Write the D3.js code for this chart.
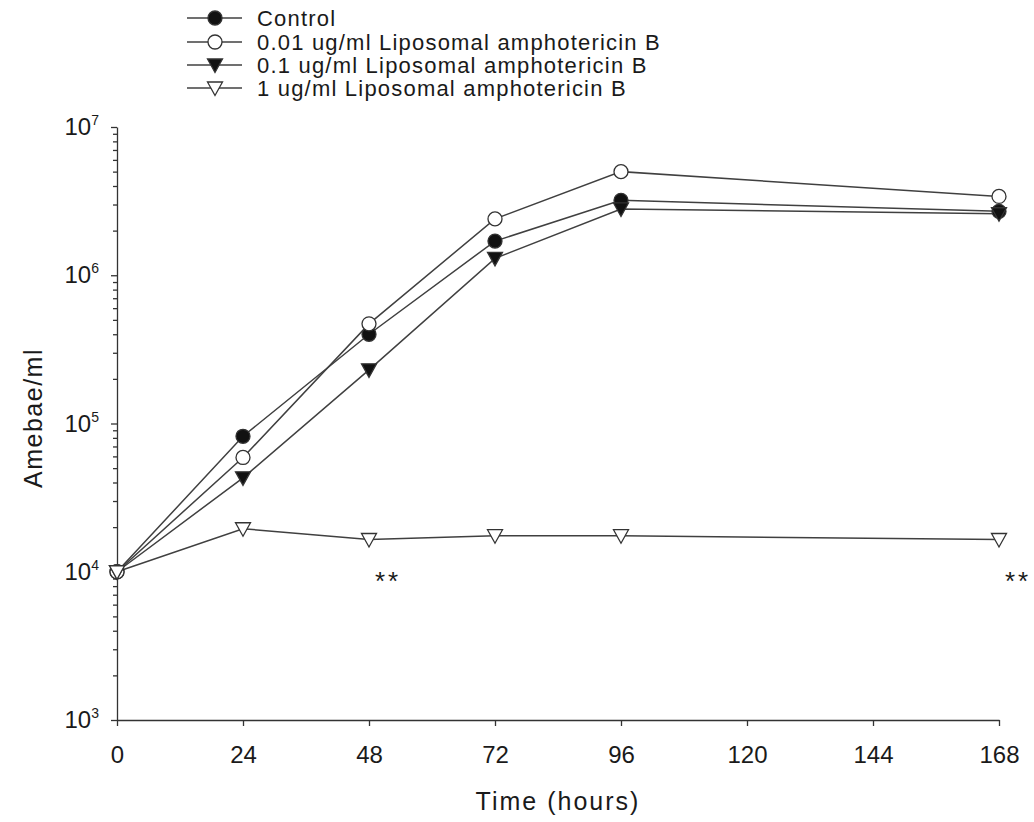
<!DOCTYPE html>
<html>
<head>
<meta charset="utf-8">
<script src="https://cdn.jsdelivr.net/npm/d3@7"></script>
<style>
  body { margin: 0; background: #fff; }
  svg text { font-family: "Liberation Sans", Arial, sans-serif; fill: #1a1a1a; }
</style>
</head>
<body>
<div id="chart"></div>
<script>
var hours = [0, 24, 48, 72, 96, 168];
var xTicks = [0, 24, 48, 72, 96, 120, 144, 168];
var yDecades = [1e3, 1e4, 1e5, 1e6, 1e7];

var control  = [1e4, 8.2e4, 4.0e5, 1.7e6, 3.2e6, 2.7e6];
var ampho001 = [1e4, 5.9e4, 4.7e5, 2.4e6, 5.0e6, 3.4e6];
var ampho01  = [1e4, 4.3e4, 2.3e5, 1.3e6, 2.8e6, 2.6e6];
var ampho1   = [1e4, 1.95e4, 1.65e4, 1.75e4, 1.75e4, 1.65e4];

var seriesNames = ['Control', '0.01 ug/ml Liposomal amphotericin B',
  '0.1 ug/ml Liposomal amphotericin B', '1 ug/ml Liposomal amphotericin B'];
var markers = [
  {shape: 'circle', fill: '#111'},
  {shape: 'circle', fill: '#fff'},
  {shape: 'triangle', fill: '#111'},
  {shape: 'triangle', fill: '#fff'}
];
var seriesVals = [control, ampho001, ampho01, ampho1];
var starHours = [48, 168];

var width = 1034, height = 822;
var svg = d3.select('#chart').append('svg')
  .attr('width', width)
  .attr('height', height);

var x = d3.scaleLinear().domain([0, 168]).range([117, 999]);
var y = d3.scaleLog().domain([1e3, 1e7]).range([720, 127]);

// y axis, minor log ticks between the decades
var yTickVals = [];
yDecades.forEach(function (d) {
  if (d === 1e7) { yTickVals.push(d); return; }
  for (var k = 1; k < 10; k++) yTickVals.push(d * k);
});

var yAxis = svg.append('g')
  .attr('transform', 'translate(117,0)')
  .call(d3.axisLeft(y).tickValues(yTickVals).tickFormat('').tickSizeOuter(0));
yAxis.selectAll('.tick line')
  .attr('x2', function (d) { return yDecades.indexOf(d) >= 0 ? -6 : -4; });
yAxis.selectAll('line, path').attr('stroke', '#333').attr('stroke-width', 1.3);

yDecades.forEach(function (d) {
  var t = svg.append('text')
    .attr('x', 99)
    .attr('y', y(d) + 8)
    .attr('text-anchor', 'end')
    .style('font-size', '24px');
  t.append('tspan').text('10');
  t.append('tspan')
    .attr('dy', -10)
    .style('font-size', '14px')
    .text(Math.round(Math.log10(d)));
});

var xAxis = svg.append('g')
  .attr('transform', 'translate(0,720)')
  .call(d3.axisBottom(x).tickValues(xTicks).tickSize(6).tickSizeOuter(0).tickPadding(20));
xAxis.selectAll('line, path').attr('stroke', '#333').attr('stroke-width', 1.3);
xAxis.selectAll('text')
  .style('font-size', '24px')
  .style('font-family', '"Liberation Sans", Arial, sans-serif')
  .attr('fill', '#1a1a1a');

svg.append('text')
  .attr('x', 558)
  .attr('y', 810)
  .attr('text-anchor', 'middle')
  .style('font-size', '25px')
  .style('letter-spacing', '2px')
  .text('Time (hours)');

svg.append('text')
  .attr('transform', 'translate(42,418) rotate(-90)')
  .attr('text-anchor', 'middle')
  .style('font-size', '25px')
  .style('letter-spacing', '1.5px')
  .text('Amebae/ml');

var line = d3.line()
  .x(function (d, i) { return x(hours[i]); })
  .y(function (d) { return y(d); });

function drawMarker(g, m, cx, cy) {
  if (m.shape === 'circle') {
    g.append('circle')
      .attr('cx', cx).attr('cy', cy).attr('r', 7)
      .attr('fill', m.fill).attr('stroke', '#333').attr('stroke-width', 1.3);
  } else {
    g.append('path')
      .attr('d', 'M' + (cx - 7.5) + ',' + (cy - 6) + 'L' + (cx + 7.5) + ',' + (cy - 6) + 'L' + cx + ',' + (cy + 7.5) + 'Z')
      .attr('fill', m.fill).attr('stroke', '#333').attr('stroke-width', 1.3);
  }
}

var plot = svg.append('g');
seriesVals.forEach(function (vals) {
  plot.append('path')
    .attr('d', line(vals))
    .attr('fill', 'none')
    .attr('stroke', '#404040')
    .attr('stroke-width', 1.5);
});
seriesVals.forEach(function (vals, s) {
  var g = plot.append('g');
  vals.forEach(function (v, i) {
    drawMarker(g, markers[s], x(hours[i]), y(v));
  });
});

starHours.forEach(function (h) {
  svg.append('text')
    .attr('x', x(h) + 6)
    .attr('y', 590)
    .style('font-size', '26px')
    .style('letter-spacing', '3px')
    .text('**');
});

// legend
var legendY = [18, 42, 65, 88];
seriesNames.forEach(function (name, i) {
  var ly = legendY[i];
  svg.append('line')
    .attr('x1', 187).attr('x2', 242)
    .attr('y1', ly).attr('y2', ly)
    .attr('stroke', '#404040').attr('stroke-width', 1.5);
  drawMarker(svg, markers[i], 215, ly);
  svg.append('text')
    .attr('x', 257)
    .attr('y', ly + 8)
    .style('font-size', '22px')
    .style('letter-spacing', '1.2px')
    .text(name);
});
</script>
</body>
</html>
